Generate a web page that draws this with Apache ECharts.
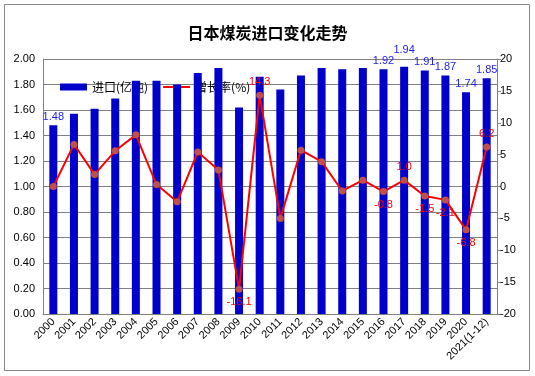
<!DOCTYPE html>
<html><head><meta charset="utf-8">
<script src="https://cdn.jsdelivr.net/npm/echarts@6/dist/echarts.min.js"></script>
<style>html,body{margin:0;padding:0;background:#fff}#c{width:535px;height:376px}</style>
</head><body><div id="c"></div>
<script>
var categories = ['2000','2001','2002','2003','2004','2005','2006','2007','2008','2009','2010','2011','2012','2013','2014','2015','2016','2017','2018','2019','2020','2021(1-12)'];
var importVol = [1.48,1.57,1.61,1.69,1.83,1.83,1.80,1.89,1.93,1.62,1.86,1.76,1.87,1.93,1.92,1.93,1.92,1.94,1.91,1.87,1.74,1.85];
var growth = [0.0,6.6,1.9,5.6,8.1,0.3,-2.4,5.4,2.6,-16.1,14.3,-5.0,5.7,3.9,-0.7,1.0,-0.8,1.0,-1.5,-2.1,-6.8,6.2];
var leftTicks = [0,2,0.2];
var rightTicks = [-20,20,5];
var barLabelIdx = [0,16,17,18,19,20,21];
var lineLabelAbove = [10,17,21];
var lineLabelBelow = [9,16,18,19,20];

var barData = importVol.map(function(v,i){
  var o = {value:v};
  if (barLabelIdx.indexOf(i) >= 0) {
    o.label = {show:true, position:'top', distance: i===17 ? 11 : 3};
  }
  return o;
});
var lineData = growth.map(function(v,i){
  var o = {value:v};
  if (lineLabelAbove.indexOf(i) >= 0) o.label = {show:true, position:'top', distance:4};
  if (lineLabelBelow.indexOf(i) >= 0) o.label = {show:true, position:'bottom', distance:4};
  return o;
});

var chart = echarts.init(document.getElementById('c'), null, {renderer:'canvas'});
var ff = 'Liberation Sans, Arial, sans-serif';
chart.setOption({
  animation:false,
  backgroundColor:'#fff',
  graphic:[{type:'rect', shape:{x:4.5,y:4.5,width:525,height:366}, style:{fill:'none', stroke:'#888', lineWidth:1}, z:-1}],
  title:{text:'日本煤炭进口变化走势', left:'center', top:20, textStyle:{fontFamily:'Noto Sans CJK SC', fontSize:16, fontWeight:'bold', color:'#000'}},
  legend:{z:1, left:55, top:76, itemWidth:27, itemHeight:7, itemGap:14, textStyle:{fontFamily:'Noto Sans CJK SC', fontSize:12, color:'#000'},
    data:[{name:'进口(亿吨)', icon:'rect'}, {name:'增长率(%)'}]},
  grid:{left:43, right:38, top:59, bottom:62, containLabel:false},
  xAxis:{type:'category', data:categories,
    axisLine:{show:true, lineStyle:{color:'#808080'}}, axisTick:{show:false},
    axisLabel:{rotate:45, interval:0, fontFamily:ff, fontSize:11, color:'#000', margin:6}},
  yAxis:[
    {type:'value', min:leftTicks[0], max:leftTicks[1], interval:leftTicks[2],
     axisLine:{show:true, lineStyle:{color:'#808080'}}, axisTick:{show:false},
     splitLine:{show:true, lineStyle:{color:'#808080', width:1}},
     axisLabel:{fontFamily:ff, fontSize:11, color:'#000', margin:8, formatter:function(v){return v.toFixed(2);}}},
    {type:'value', min:rightTicks[0], max:rightTicks[1], interval:rightTicks[2], position:'right',
     axisLine:{show:true, lineStyle:{color:'#808080'}}, axisTick:{show:true, length:4, lineStyle:{color:'#808080'}},
     splitLine:{show:false},
     axisLabel:{fontFamily:ff, fontSize:11, color:'#000', margin:3}}
  ],
  series:[
    {name:'进口(亿吨)', type:'bar', z:3, data:barData, barWidth:8, itemStyle:{color:'#0000CC'},
     label:{show:false, color:'#2222EE', fontFamily:ff, fontSize:11, formatter:function(p){return p.value.toFixed(2);}}},
    {name:'增长率(%)', type:'line', z:4, yAxisIndex:1, data:lineData, symbol:'circle', symbolSize:7,
     lineStyle:{color:'#FF0000', width:2}, itemStyle:{color:'#C0504D'},
     label:{show:false, color:'#FF0000', fontFamily:ff, fontSize:11, formatter:function(p){return p.value.toFixed(1);}}}
  ]
});
</script></body></html>
